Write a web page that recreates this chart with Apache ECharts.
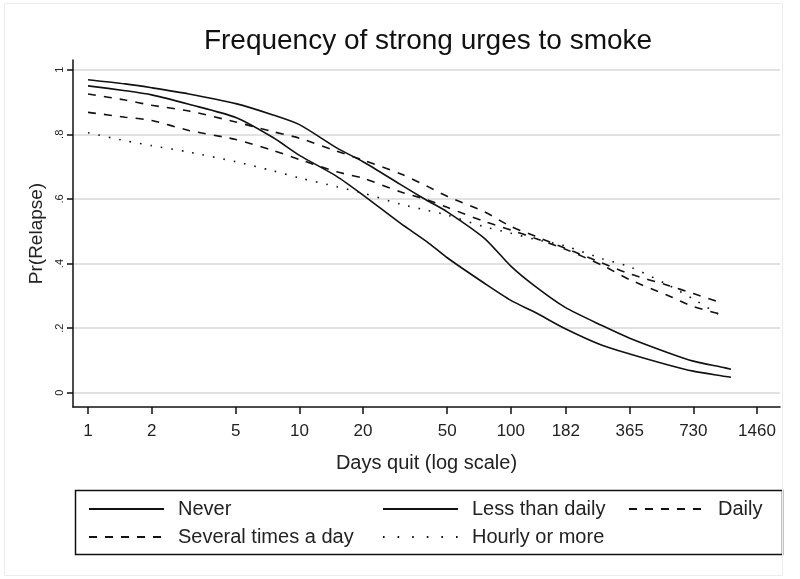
<!DOCTYPE html>
<html>
<head>
<meta charset="utf-8">
<script src="https://cdn.jsdelivr.net/npm/echarts@6/dist/echarts.min.js"></script>
<style>html,body{margin:0;padding:0;background:#fff;}#chart{width:800px;height:579px;}</style>
</head>
<body>
<div id="chart"></div>
<script>
const titleText = 'Frequency of strong urges to smoke';
const xTickValues = [1, 2, 5, 10, 20, 50, 100, 182, 365, 730, 1460];
const yTickValues = [0, 0.2, 0.4, 0.6, 0.8, 1];
const yTickLabels = ['0', '.2', '.4', '.6', '.8', '1'];
const days = [1, 1.5, 2, 3, 5, 7.5, 10, 15, 20, 30, 40, 50, 75, 100, 130, 180, 270, 365, 550, 730, 1000, 1100];
const never = [0.969, 0.956, 0.944, 0.925, 0.895, 0.860, 0.830, 0.758, 0.715, 0.645, 0.596, 0.560, 0.478, 0.392, 0.330, 0.265, 0.208, 0.169, 0.125, 0.098, 0.079, 0.073];
const lessThanDaily = [0.950, 0.935, 0.922, 0.893, 0.852, 0.790, 0.735, 0.670, 0.612, 0.525, 0.468, 0.418, 0.339, 0.286, 0.249, 0.199, 0.147, 0.120, 0.087, 0.067, 0.052, 0.048];
const daily = [0.925, 0.906, 0.890, 0.872, 0.838, 0.808, 0.788, 0.748, 0.720, 0.678, 0.640, 0.608, 0.560, 0.515, 0.485, 0.448, 0.402, 0.368, 0.333, 0.307, 0.278, null];
const severalTimes = [0.868, 0.853, 0.843, 0.812, 0.784, 0.750, 0.722, 0.684, 0.664, 0.622, 0.598, 0.574, 0.530, 0.504, 0.478, 0.445, 0.395, 0.350, 0.302, 0.267, 0.242, null];
const hourly = [0.805, 0.780, 0.765, 0.745, 0.715, 0.687, 0.665, 0.638, 0.618, 0.584, 0.565, 0.550, 0.514, 0.494, 0.475, 0.455, 0.415, 0.390, 0.335, 0.290, 0.236, null];

const seriesNames = ['Never', 'Less than daily', 'Daily', 'Several times a day', 'Hourly or more'];
const seriesValues = [never, lessThanDaily, daily, severalTimes, hourly];
const lineTypes = ['solid', 'solid', [8, 8], [8, 8], [1.6, 9]];

const FONT = 'Liberation Sans, Arial, sans-serif';
const chart = echarts.init(document.getElementById('chart'), null, {renderer: 'canvas'});

function pairs(vals) {
  const out = [];
  for (let i = 0; i < days.length; i++) {
    if (vals[i] !== null) out.push([days[i], vals[i]]);
  }
  return out;
}

const series = seriesNames.map((name, i) => ({
  name: name,
  type: 'line',
  data: pairs(seriesValues[i]),
  smooth: 0.25,
  symbol: 'none',
  showSymbol: false,
  lineStyle: {color: '#111', width: 1.6, type: lineTypes[i]},
  itemStyle: {color: '#111'},
  z: 3
}));

const legendText = {fontFamily: FONT, fontSize: 20, color: '#222', padding: [0, 0, 0, 9]};
function legendAt(name, left, top, lineType) {
  const lg = {
    data: [name], left: left, top: top, itemWidth: 75, itemHeight: 12,
    itemStyle: {color: 'rgba(0,0,0,0)', borderWidth: 0, opacity: 0},
    textStyle: legendText, selectedMode: false, padding: 0
  };
  if (lineType) lg.lineStyle = {type: lineType};
  return lg;
}

const option = {
  animation: false,
  backgroundColor: '#fff',
  title: {
    text: titleText, left: 423, top: 22, textAlign: 'center',
    textStyle: {fontFamily: FONT, fontSize: 28, fontWeight: 'normal', color: '#111'}
  },
  grid: {left: 73, right: 20, top: 60, bottom: 172, containLabel: false},
  xAxis: {
    type: 'log', logBase: 10, min: 0.849, max: 1876,
    name: 'Days quit (log scale)', nameLocation: 'middle', nameGap: 46,
    nameTextStyle: {fontFamily: FONT, fontSize: 20, color: '#222'},
    axisLine: {show: true, onZero: false, lineStyle: {color: '#111', width: 1.5}},
    axisTick: {show: true, length: 7, customValues: xTickValues, lineStyle: {color: '#111', width: 1.5}},
    axisLabel: {customValues: xTickValues, margin: 16, fontFamily: FONT, fontSize: 17, color: '#222',
      formatter: v => String(Math.round(v))},
    splitLine: {show: false}, minorTick: {show: false}, minorSplitLine: {show: false}
  },
  yAxis: {
    type: 'value', min: -0.044, max: 1.03,
    name: 'Pr(Relapse)', nameLocation: 'middle', nameGap: 26, nameRotate: 90,
    nameTextStyle: {fontFamily: FONT, fontSize: 19, color: '#222'},
    axisLine: {show: true, onZero: false, lineStyle: {color: '#111', width: 1.5}},
    axisTick: {show: true, length: 6, customValues: yTickValues, lineStyle: {color: '#111', width: 1.5}},
    axisLabel: {customValues: yTickValues, rotate: 90, margin: 8, fontFamily: FONT, fontSize: 11, color: '#222',
      formatter: v => yTickLabels[yTickValues.findIndex(t => Math.abs(t - v) < 1e-6)]},
    splitLine: {show: true, lineStyle: {color: '#e2e2e2', width: 2}}
  },
  legend: [
    legendAt('Never', 88, 499),
    legendAt('Less than daily', 382, 499),
    legendAt('Daily', 628, 499),
    legendAt('Several times a day', 88, 527),
    legendAt('Hourly or more', 382, 527, [1.6, 13])
  ],
  graphic: [
    {type: 'rect', shape: {x: 75.5, y: 490.5, width: 707, height: 64}, style: {fill: 'none', stroke: '#111', lineWidth: 1.5}, z: 0},
    {type: 'rect', shape: {x: 4.5, y: 3.5, width: 778, height: 572}, style: {fill: 'none', stroke: '#ececec', lineWidth: 1}, z: 0}
  ],
  series: series
};
chart.setOption(option);
</script>
</body>
</html>
